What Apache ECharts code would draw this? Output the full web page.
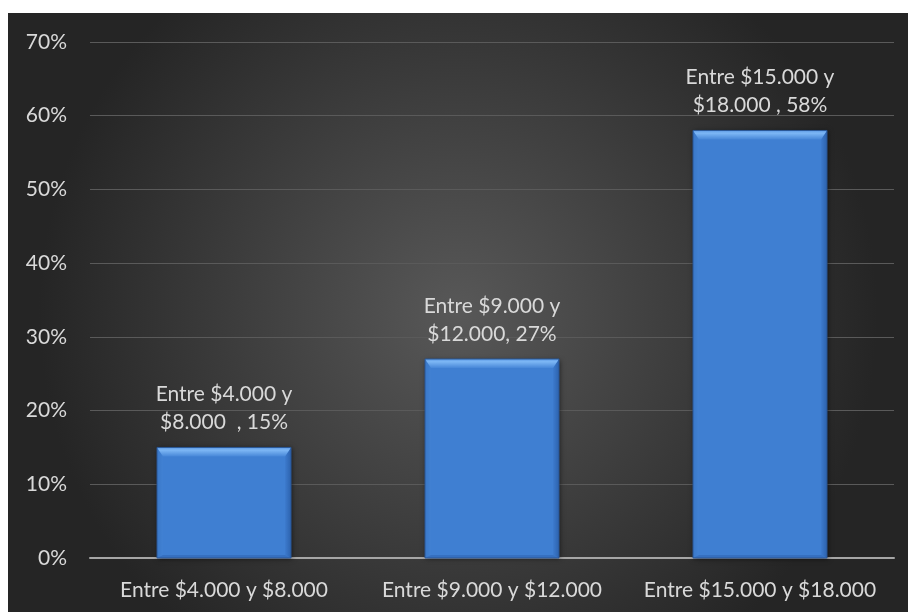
<!DOCTYPE html>
<html><head><meta charset="utf-8">
<script src="https://cdn.jsdelivr.net/npm/echarts@6/dist/echarts.min.js"></script>
<style>html,body{margin:0;padding:0;background:#fff;width:908px;height:612px;overflow:hidden}
#c{position:absolute;left:8px;top:13px;width:900px;height:599px}</style>
</head><body><div id="c"></div>
<script>
const categories = ['Entre $4.000 y $8.000', 'Entre $9.000 y $12.000', 'Entre $15.000 y $18.000'];
const values = [15, 27, 58];
const dataLabels = ['Entre $4.000 y\n$8.000  , 15%', 'Entre $9.000 y\n$12.000, 27%', 'Entre $15.000 y\n$18.000 , 58%'];
const yTicks = [0, 10, 20, 30, 40, 50, 60, 70];

const chart = echarts.init(document.getElementById('c'));
const font = 'Lato, "Open Sans", sans-serif';
const FS = 21;
chart.setOption({
  backgroundColor: new echarts.graphic.RadialGradient(0.5, 0.5, 0.7, [
    {offset: 0, color: '#585858'},
    {offset: 1, color: '#252525'}
  ]),
  grid: {left: 82, right: 14, top: 29, bottom: 54},
  xAxis: {
    type: 'category', data: categories,
    axisLine: {lineStyle: {color: '#a6a6a6', width: 2}},
    axisTick: {show: false},
    axisLabel: {color: '#d9d9d9', fontSize: FS, fontFamily: font, margin: 22, interval: 0, hideOverlap: false}
  },
  yAxis: {
    type: 'value', min: 0, max: 70, interval: 10,
    axisLine: {show: false}, axisTick: {show: false},
    axisLabel: {color: '#d9d9d9', fontSize: FS, fontFamily: font, margin: 23,
      formatter: v => yTicks.includes(v) ? v + '%' : ''},
    splitLine: {lineStyle: {color: '#5a5a5a', width: 1}}
  },
  series: [{
    type: 'bar', barWidth: '50%',
    data: values.map((v, i) => ({value: v, label: {formatter: dataLabels[i]}})),
    itemStyle: {
      color: '#3f7fd2',
      shadowColor: 'rgba(0,0,0,0.55)', shadowBlur: 5, shadowOffsetX: 1, shadowOffsetY: 1
    },
    label: {show: true, position: 'top', color: '#d9d9d9', fontSize: FS, fontFamily: font,
      lineHeight: 28, distance: 11, align: 'center'}
  }, {
    type: 'custom', silent: true, z: 3,
    data: values.map((v, i) => [i, v]),
    encode: {x: 0, y: 1},
    renderItem: function (params, api) {
      const top = api.coord([api.value(0), api.value(1)]);
      const base = api.coord([api.value(0), 0]);
      const w = api.size([1, 0])[0] * 0.5;
      const x0 = top[0] - w / 2, x1 = top[0] + w / 2, y0 = top[1], y1 = base[1];
      const b = 9, s = 6, d = 3;
      return {type: 'group', children: [
        {type: 'polygon', shape: {points: [[x0, y0], [x0 + s, y0 + b], [x0 + s, y1 - d], [x0, y1]]},
          style: {fill: new echarts.graphic.LinearGradient(0, 0, 1, 0, [
            {offset: 0, color: '#3a78c8'}, {offset: 1, color: '#4181d3'}])}},
        {type: 'polygon', shape: {points: [[x1, y0], [x1 - s, y0 + b], [x1 - s, y1 - d], [x1, y1]]},
          style: {fill: new echarts.graphic.LinearGradient(0, 0, 1, 0, [
            {offset: 0, color: '#3d7bce'}, {offset: 1, color: '#2c62ad'}])}},
        {type: 'polygon', shape: {points: [[x0, y1], [x1, y1], [x1 - s, y1 - d], [x0 + s, y1 - d]]},
          style: {fill: '#3670c0'}},
        {type: 'polygon', shape: {points: [[x0, y0], [x1, y0], [x1 - s, y0 + b], [x0 + s, y0 + b]]},
          style: {fill: new echarts.graphic.LinearGradient(0, 0, 0, 1, [
            {offset: 0, color: '#5d9ae6'}, {offset: 0.3, color: '#7db7f5'}, {offset: 1, color: '#4787d8'}])}},
        {type: 'rect', shape: {x: x0, y: y0, width: w, height: y1 - y0},
          style: {fill: 'none', stroke: '#2a5796', lineWidth: 1}}
      ]};
    }
  }]
});
</script></body></html>
